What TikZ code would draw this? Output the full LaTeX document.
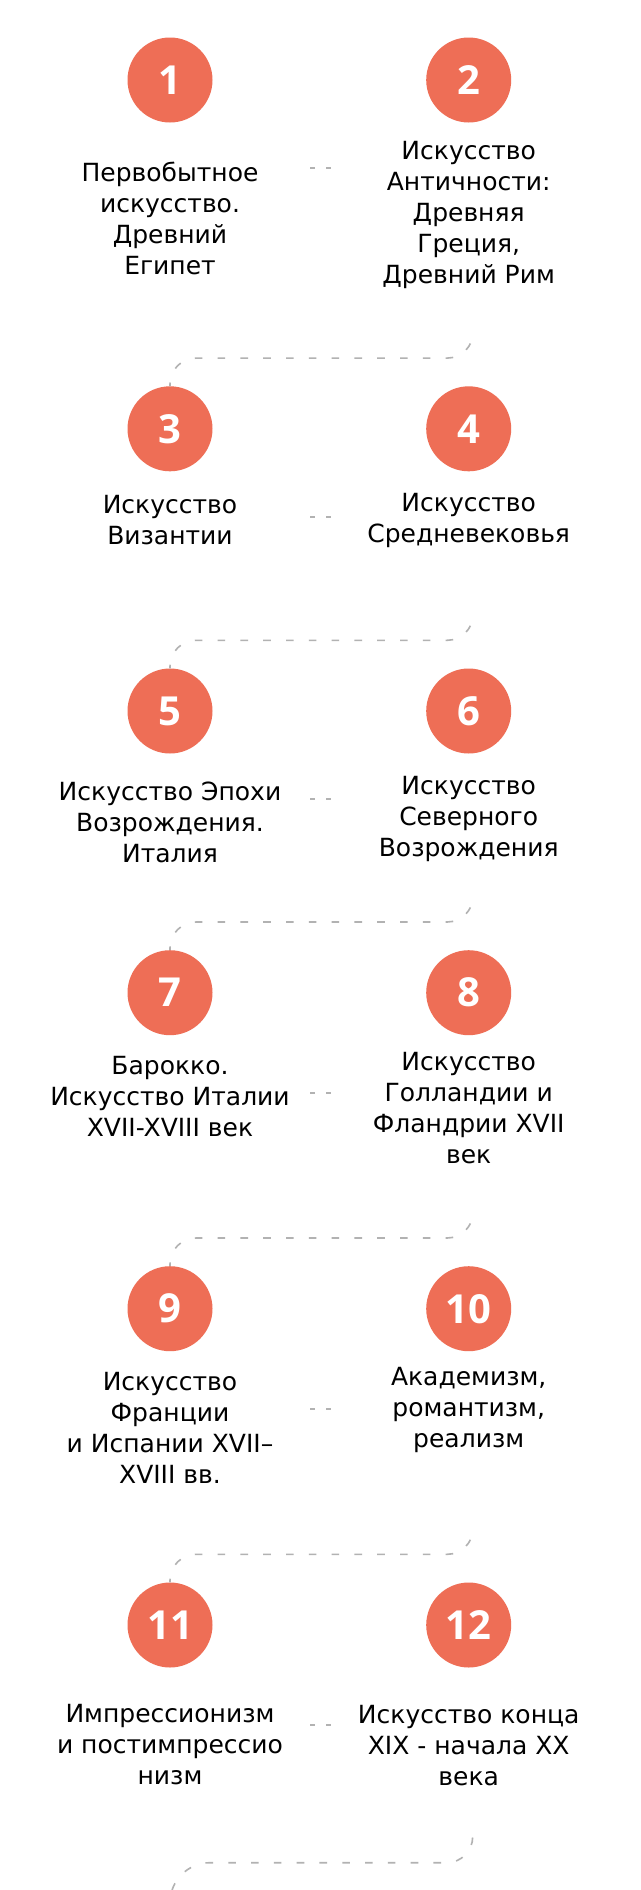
\documentclass[tikz,border=0pt]{standalone}
\usepackage{fontspec}
\setmainfont{DejaVu Sans}
\newfontfamily\numfont{Open Sans}
\usetikzlibrary{positioning,calc}
\definecolor{tlcoral}{HTML}{EE6E56}
\definecolor{tlgray}{HTML}{B2B2B2}

\begin{document}
\begin{tikzpicture}[
  x=1pt, y=1pt,
  num/.style={circle, fill=tlcoral, text=white, minimum size=85pt, inner sep=0pt,
              font=\numfont\bfseries\fontsize{40}{40}\selectfont},
  caption/.style={align=center, inner sep=0pt, text=black,
                  font=\fontsize{25}{31}\selectfont},
  link/.style={draw=tlgray, line width=1.6pt, rounded corners=26pt,
               dash pattern=on 7.6pt off 15.2pt, dash phase=4pt},
  pair/.style={draw=tlgray, line width=1.6pt, dash pattern=on 4.5pt off 11.5pt}
]
\fill[white] (0,0) rectangle (640,-1890);
\useasboundingbox (0,0) rectangle (640,-1890);
\clip (0,0) rectangle (640,-1890);

\node[num] (c1) at (170,-80) {1};
\node[num, right=213.3pt of c1] (c2) {2};
\node[caption] (t1) at ([yshift=-138pt]c1) {Первобытное\\искусство.\\Древний\\Египет};
\node[caption] (t2) at ([yshift=-135.3pt]c2) {Искусство\\Античности:\\Древняя\\Греция,\\Древний Рим};
\draw[pair] ($(c1)!.5!(c2)+(-9,-87.7)$) -- ++(21,0);

\node[num] (c3) at (170,-428.8) {3};
\node[num, right=213.3pt of c3] (c4) {4};
\node[caption] (t3) at ([yshift=-91.7pt]c3) {Искусство\\Византии};
\node[caption] (t4) at ([yshift=-91.2pt]c4) {Искусство\\Средневековья};
\draw[pair] ($(c3)!.5!(c4)+(-9,-88.2)$) -- ++(21,0);
\draw[link] (c3.north) -- ++(0,28) -| ([xshift=4.4pt,yshift=54pt]c4.north);

\node[num] (c5) at (170,-711) {5};
\node[num, right=213.3pt of c5] (c6) {6};
\node[caption] (t5) at ([yshift=-111pt]c5) {Искусство Эпохи\\Возрождения.\\Италия};
\node[caption] (t6) at ([yshift=-108.2pt]c6) {Искусство\\Северного\\Возрождения};
\draw[pair] ($(c5)!.5!(c6)+(-9,-88)$) -- ++(21,0);
\draw[link] (c5.north) -- ++(0,28) -| ([xshift=4.4pt,yshift=54pt]c6.north);

\node[num] (c7) at (170,-992.7) {7};
\node[num, right=213.3pt of c7] (c8) {8};
\node[caption] (t7) at ([yshift=-104pt]c7) {Барокко.\\Искусство Италии\\XVII-XVIII век};
\node[caption] (t8) at ([yshift=-115.1pt]c8) {Искусство\\Голландии и\\Фландрии XVII\\век};
\draw[pair] ($(c7)!.5!(c8)+(-9,-100)$) -- ++(21,0);
\draw[link] (c7.north) -- ++(0,28) -| ([xshift=4.4pt,yshift=54pt]c8.north);

\node[num] (c9) at (170,-1308.7) {9};
\node[num, right=213.3pt of c9] (c10) {10};
\node[caption] (t9) at ([yshift=-119pt]c9) {Искусство\\Франции\\и Испании XVII–\\XVIII вв.};
\node[caption] (t10) at ([yshift=-101.1pt]c10) {Академизм,\\романтизм,\\реализм};
\draw[pair] ($(c9)!.5!(c10)+(-9,-100.3)$) -- ++(21,0);
\draw[link] (c9.north) -- ++(0,28) -| ([xshift=4.4pt,yshift=54pt]c10.north);

\node[num] (c11) at (170,-1625) {11};
\node[num, right=213.3pt of c11] (c12) {12};
\node[caption] (t11) at ([yshift=-120pt]c11) {Импрессионизм\\и постимпрессио\\низм};
\node[caption] (t12) at ([yshift=-120.3pt]c12) {Искусство конца\\XIX - начала XX\\века};
\draw[pair] ($(c11)!.5!(c12)+(-9,-100)$) -- ++(21,0);
\draw[link] (c11.north) -- ++(0,28) -| ([xshift=4.4pt,yshift=54pt]c12.north);

% the path runs on past the bottom edge
\coordinate (next) at (170,-1933);
\draw[link, sharp corners, dash phase=2.6pt] (next) -- ++(0,30.3)
  arc[start angle=180, end angle=90, radius=40pt] -- ++(236.7,0)
  arc[start angle=-90, end angle=0, radius=26pt];
\end{tikzpicture}
\end{document}
